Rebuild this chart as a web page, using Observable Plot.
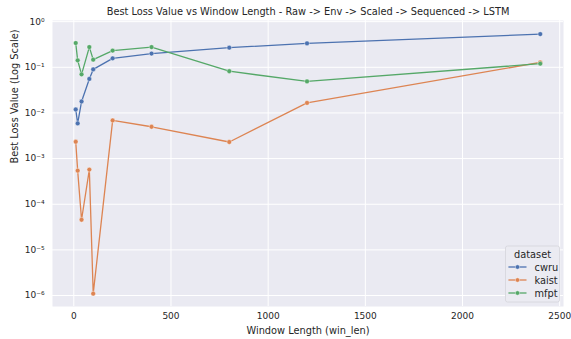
<!DOCTYPE html>
<html>
<head>
<meta charset="utf-8">
<script src="https://cdn.jsdelivr.net/npm/d3@7"></script>
<script src="https://cdn.jsdelivr.net/npm/@observablehq/plot@0.6"></script>
<style>
  html, body { margin: 0; padding: 0; background: #ffffff; }
  #chart { width: 571px; height: 339px; }
</style>
</head>
<body>
<div id="chart"></div>
<script>
// Window lengths tried for each dataset
const winLen = [10, 20, 40, 80, 100, 200, 400, 800, 1200, 2400];
const datasets = ["cwru", "kaist", "mfpt"];

// Best loss per window length
const cwru  = [0.0119, 0.0059, 0.0178, 0.0556, 0.090, 0.157, 0.200, 0.269, 0.334, 0.533];
const kaist = [0.00234, 0.000545, 0.0000457, 0.000574, 0.0000011, 0.00686, 0.00498, 0.00231, 0.0166, 0.128];
const mfpt  = [0.340, 0.142, 0.070, 0.277, 0.147, 0.232, 0.277, 0.082, 0.049, 0.120];

const palette = ["#4C72B0", "#DD8452", "#55A868"];
const xTicks = [0, 500, 1000, 1500, 2000, 2500];
const yTicks = [1e-6, 1e-5, 1e-4, 1e-3, 1e-2, 1e-1, 1];

const titleText = "Best Loss Value vs Window Length - Raw -> Env -> Scaled -> Sequenced -> LSTM";
const xLabel = "Window Length (win_len)";
const yLabel = "Best Loss Value (Log Scale)";

const series = { cwru, kaist, mfpt };
const rows = datasets.flatMap(name =>
  winLen.map((w, i) => ({ dataset: name, win_len: w, loss: series[name][i] }))
);

const sup = { "-": "\u207B", "0": "\u2070", "1": "\u00B9", "2": "\u00B2", "3": "\u00B3",
  "4": "\u2074", "5": "\u2075", "6": "\u2076", "7": "\u2077", "8": "\u2078", "9": "\u2079" };
const powerOfTen = v => "10" + String(Math.round(Math.log10(v))).split("").map(c => sup[c]).join("");

const ink = "#262626";
const font = "DejaVu Sans";
const labelSize = 9.8;

const chart = Plot.plot({
  width: 571,
  height: 339,
  marginLeft: 52,
  marginRight: 8,
  marginTop: 20,
  marginBottom: 33,
  style: { fontFamily: font, fontSize: "9px", color: ink, background: "#ffffff" },
  x: { domain: [-109.5, 2519.5] },
  y: { type: "log", domain: [Math.pow(10, -6.24), Math.pow(10, 0.025)] },
  color: { domain: datasets, range: palette },
  marks: [
    Plot.frame({ fill: "#EAEAF2", stroke: null }),
    Plot.gridX(xTicks, { stroke: "#ffffff", strokeOpacity: 1, strokeWidth: 1 }),
    Plot.gridY(yTicks, { stroke: "#ffffff", strokeOpacity: 1, strokeWidth: 1 }),
    Plot.axisX(xTicks, { tickSize: 0, tickPadding: 6, label: null, fill: ink, tickFormat: d => String(d) }),
    Plot.axisY(yTicks, { tickSize: 0, tickPadding: 8, label: null, fill: ink, tickFormat: powerOfTen }),
    Plot.line(rows, { x: "win_len", y: "loss", z: "dataset", stroke: "dataset", strokeWidth: 1.3 }),
    Plot.dot(rows, { x: "win_len", y: "loss", fill: "dataset", r: 2.4, stroke: "#ffffff", strokeWidth: 0.4 }),
    Plot.text([titleText], { frameAnchor: "top", dy: -8.5, fontSize: labelSize, fill: ink, lineAnchor: "middle" }),
    Plot.text([xLabel], { frameAnchor: "bottom", dy: 24, fontSize: labelSize, fill: ink, lineAnchor: "middle" }),
    Plot.text([yLabel], { frameAnchor: "left", dx: -38, rotate: -90, fontSize: labelSize, fill: ink, lineAnchor: "middle" })
  ]
});

document.getElementById("chart").appendChild(chart);

// Legend box in the lower right corner of the plotting area
const svg = d3.select(chart);
const lg = svg.append("g").attr("transform", "translate(505.5,246)")
  .style("font-family", font).style("font-size", labelSize + "px");
lg.append("rect").attr("x", 0).attr("y", 0).attr("width", 54).attr("height", 56).attr("rx", 2)
  .attr("fill", "#EBEBF2").attr("stroke", "#d4d4da").attr("stroke-width", 0.8);
lg.append("text").attr("x", 27).attr("y", 8).attr("text-anchor", "middle")
  .attr("dominant-baseline", "central").attr("fill", ink).text("dataset");
datasets.forEach((name, i) => {
  const cy = 21 + i * 13;
  lg.append("line").attr("x1", 3).attr("x2", 21).attr("y1", cy).attr("y2", cy)
    .attr("stroke", palette[i]).attr("stroke-width", 1.3);
  lg.append("circle").attr("cx", 12).attr("cy", cy).attr("r", 2.2)
    .attr("fill", palette[i]).attr("stroke", "#ffffff").attr("stroke-width", 0.4);
  lg.append("text").attr("x", 29).attr("y", cy).attr("text-anchor", "start")
    .attr("dominant-baseline", "central").attr("fill", ink).text(name);
});
</script>
</body>
</html>
